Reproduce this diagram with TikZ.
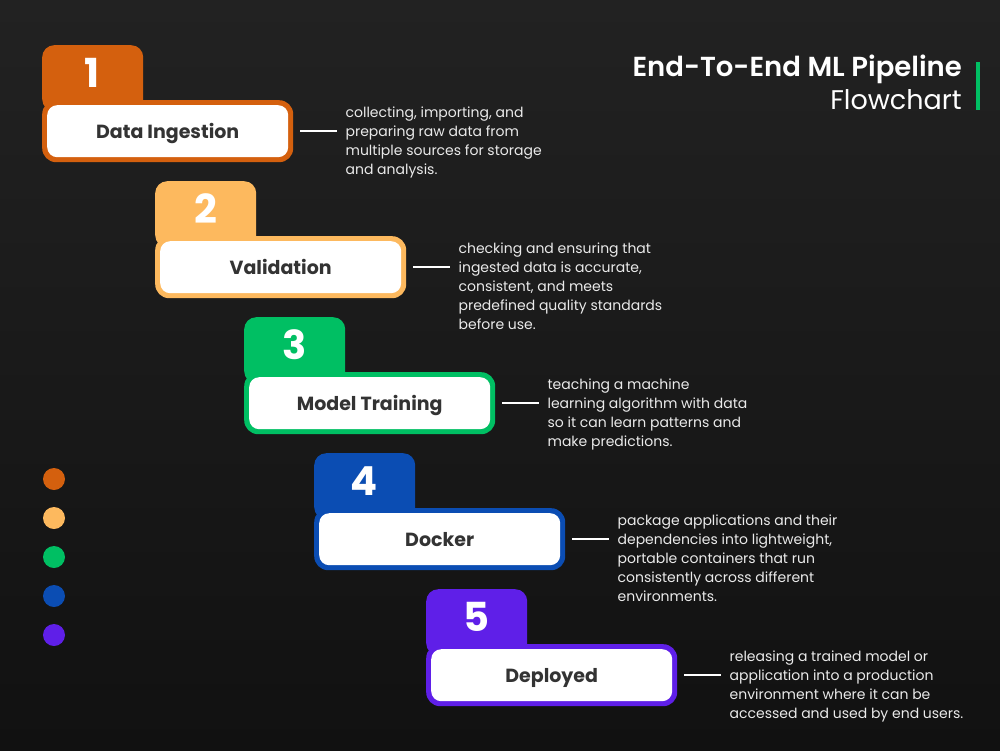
\documentclass[tikz,border=0pt]{standalone}
\usepackage{fontspec}
\setmainfont{Poppins}
\newfontfamily\titlefont{Poppins SemiBold}
\usetikzlibrary{calc}
\definecolor{cOrange}{HTML}{D4600E}
\definecolor{cSand}{HTML}{FDB95E}
\definecolor{cGreen}{HTML}{00BF63}
\definecolor{cBlue}{HTML}{0B4DB3}
\definecolor{cPurple}{HTML}{5F1FE8}
\definecolor{bgTop}{HTML}{222222}
\definecolor{bgBot}{HTML}{111111}
\definecolor{labelText}{HTML}{333333}
\definecolor{descText}{HTML}{EAEAEA}
\tikzset{
  tabbox/.style={draw=none, minimum width=101pt, minimum height=66pt, rounded corners=12pt, inner sep=0pt, anchor=north west},
  framebox/.style={draw=none, minimum width=251pt, minimum height=62pt, rounded corners=14pt, inner sep=0pt, anchor=north west},
  innerbox/.style={fill=white, minimum width=241pt, minimum height=52pt, rounded corners=10pt, inner sep=0pt},
  labeltxt/.style={text=labelText, font=\fontsize{19}{21}\selectfont\bfseries, inner sep=0pt},
  numtxt/.style={text=white, font=\fontsize{40}{40}\selectfont\bfseries, inner sep=0pt},
  desc/.style={text=descText, font=\fontsize{14}{19}\selectfont, align=left, inner sep=0pt, anchor=north west},
  link/.style={draw=white, line width=1.6pt},
  dot/.style={circle, minimum size=22pt, inner sep=0pt, draw=none}
}
\newcommand{\mlstage}[7]{%
  % #1 id, #2 x, #3 tab top y, #4 colour, #5 number, #6 label, #7 description
  \node[tabbox, fill=#4] (tab#1) at (#2,#3) {};
  \node[numtxt] (num#1) at ($(#2,#3)+(50.5,28)$) {#5};
  \node[framebox, fill=#4] (frame#1) at ($(#2,#3)+(0,55)$) {};
  \node[innerbox] (inner#1) at (frame#1.center) {};
  \node[labeltxt, anchor=base] (label#1) at ($(inner#1.center)+(0,7)$) {#6};
  \node[desc] (desc#1) at ($(frame#1.east)+(52,-24.5)$) {#7};
  \coordinate (linkend#1) at ($(frame#1.east -| desc#1.west)+(-8,0)$);
  \draw[link] ($(frame#1.east)+(7,0)$) -- (linkend#1);
}
\begin{document}
\begin{tikzpicture}[x=1pt,y=-1pt]
\useasboundingbox (0,0) rectangle (1000,750);
\shade[top color=bgTop, bottom color=bgBot] (0,0) rectangle (1000,750);

% title
\node[anchor=east, text=white, font=\fontsize{27.5}{30}\selectfont\titlefont, inner sep=0pt] (title1) at (962,69) {End-To-End ML Pipeline};
\node[anchor=east, text=white, font=\fontsize{27}{30}\selectfont, inner sep=0pt] (title2) at (962,100) {Flowchart};
\node[fill=cGreen, minimum width=4pt, minimum height=48pt, inner sep=0pt, anchor=north] (bar) at (978,62) {};

\mlstage{1}{42}{45}{cOrange}{1}{Data Ingestion}{collecting, importing, and\\preparing raw data from\\multiple sources for storage\\and analysis.}
\mlstage{2}{155}{181}{cSand}{2}{Validation}{checking and ensuring that\\ingested data is accurate,\\consistent, and meets\\predefined quality standards\\before use.}
\mlstage{3}{244}{317}{cGreen}{3}{Model Training}{teaching a machine\\learning algorithm with data\\so it can learn patterns and\\make predictions.}
\mlstage{4}{314}{453}{cBlue}{4}{Docker}{package applications and their\\dependencies into lightweight,\\portable containers that run\\consistently across different\\environments.}
\mlstage{5}{426}{589}{cPurple}{5}{Deployed}{releasing a trained model or\\application into a production\\environment where it can be\\accessed and used by end users.}

% legend dots
\node[dot, fill=cOrange] (d1) at (54,479) {};
\node[dot, fill=cSand] (d2) at (54,518) {};
\node[dot, fill=cGreen] (d3) at (54,557) {};
\node[dot, fill=cBlue] (d4) at (54,596) {};
\node[dot, fill=cPurple] (d5) at (54,635) {};
\end{tikzpicture}
\end{document}
